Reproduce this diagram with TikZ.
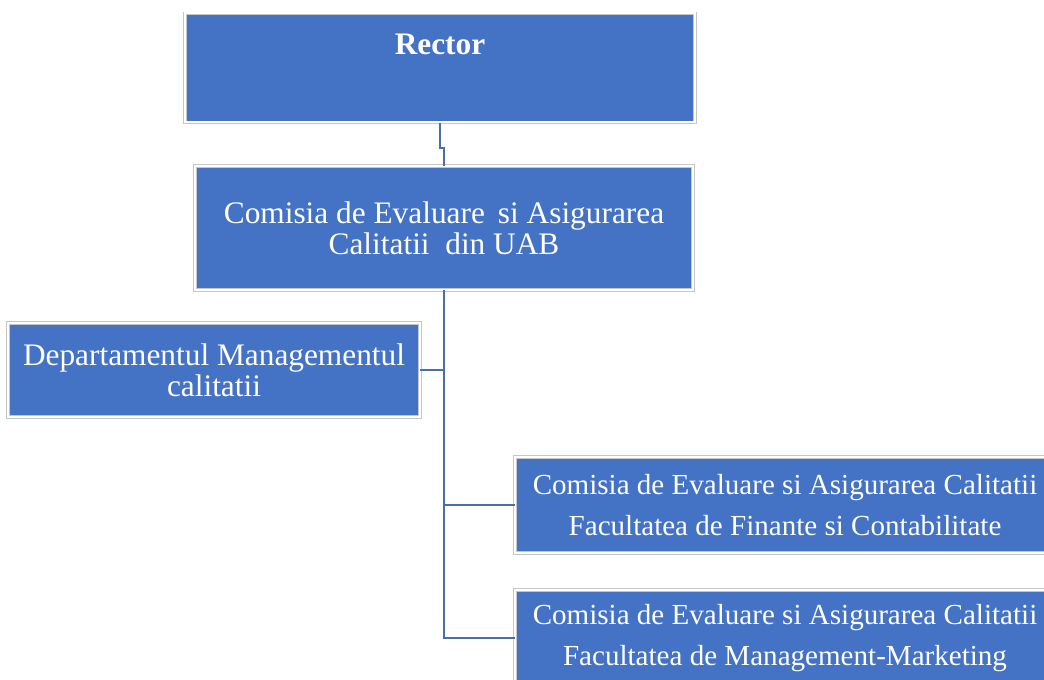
\documentclass[tikz,border=0pt]{standalone}
\usepackage{fontspec}
\setmainfont{Liberation Serif}
\usepackage{xcolor}
\definecolor{boxblue}{HTML}{4472C4}
\definecolor{lineblue}{HTML}{4A6DB0}
\usetikzlibrary{positioning}
\tikzset{%
    orgbox/.style={%
        draw=gray!45, double=white, double distance=1.4pt, line width=0.5pt,
        fill=boxblue, text=white, align=center, inner sep=0pt
    },
    topfont/.style={font=\fontsize{23.5}{23.25}\selectfont},
    lowfont/.style={font=\fontsize{21.8}{30.75}\selectfont},
    link/.style={draw=lineblue, line width=2pt}
}

\begin{document}
\begin{tikzpicture}[x=0.75pt,y=-0.75pt]
\useasboundingbox (0,0) rectangle (1044,680);
\node[orgbox,topfont,anchor=north,minimum width=382.5pt,
      text height=30.75pt,text depth=51pt] (rector) at (440,13) {\textbf{Rector}};
\node[orgbox,topfont,minimum width=373.5pt,minimum height=93pt] (ceac) at (444,228)
    {Comisia de Evaluare\,\ si Asigurarea\\Calitatii \ din UAB};
\node[orgbox,topfont,minimum width=309pt,minimum height=70.5pt] (dmc) at (214,370)
    {Departamentul Managementul\\calitatii};
\node[orgbox,lowfont,minimum width=405pt,minimum height=72pt] (fincont) at (785,505)
    {Comisia de Evaluare si Asigurarea Calitatii\\Facultatea de Finante si Contabilitate};
\node[orgbox,lowfont,minimum width=405pt,minimum height=72pt] (mngmk) at (785,638)
    {Comisia de Evaluare si Asigurarea Calitatii\\Facultatea de Management-Marketing};
%connectors
\coordinate (jog) at (440,148);
\draw[link] (rector.south) -- (jog) -| (ceac.north);
\draw[link] (ceac.south) |- (mngmk.west);
\draw[link] (ceac.south |- dmc.east) -- (dmc.east);
\draw[link] (ceac.south |- fincont.west) -- (fincont.west);
\end{tikzpicture}
\end{document}
